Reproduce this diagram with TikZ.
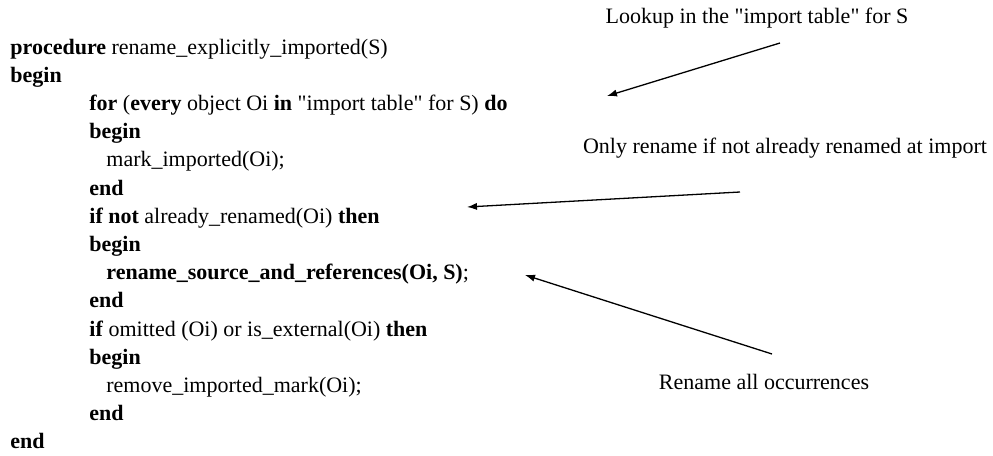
\documentclass[tikz,border=0pt]{standalone}
\usepackage{fontspec}
\setmainfont{Liberation Serif}
\usetikzlibrary{arrows.meta}
\newcommand{\dq}{\textquotedbl}
\begin{document}
\begin{tikzpicture}[x=0.5pt,y=-0.5pt,
  code/.style={anchor=base west, inner sep=0pt, font=\fontsize{11}{13}\selectfont},
  note/.style={anchor=base, inner sep=0pt, font=\fontsize{11}{13}\selectfont},
  pointer/.style={-{Latex[length=5pt,width=3.6pt]}, line width=0.65pt}]
\useasboundingbox (0,0) rectangle (993,456);
% pseudo-code listing
\node[code] (l1)  at (10,54)    {\textbf{procedure} rename\_explicitly\_imported(S)};
\node[code] (l2)  at (10,82.2)  {\textbf{begin}};
\node[code] (l3)  at (89,110.4) {\textbf{for} (\textbf{every} object Oi \textbf{in} \dq import table\dq{} for S) \textbf{do}};
\node[code] (l4)  at (89,138.6) {\textbf{begin}};
\node[code] (l5)  at (106,166.8) {mark\_imported(Oi);};
\node[code] (l6)  at (89,195)   {\textbf{end}};
\node[code] (l7)  at (89,223.2) {\textbf{if not} already\_renamed(Oi) \textbf{then}};
\node[code] (l8)  at (89,251.4) {\textbf{begin}};
\node[code] (l9)  at (106,279.6) {\textbf{rename\_source\_and\_references(Oi, S)};};
\node[code] (l10) at (89,307.8) {\textbf{end}};
\node[code] (l11) at (89,336)   {\textbf{if} omitted (Oi) or is\_external(Oi) \textbf{then}};
\node[code] (l12) at (89,364.2) {\textbf{begin}};
\node[code] (l13) at (106,392.4) {remove\_imported\_mark(Oi);};
\node[code] (l14) at (89,420.6) {\textbf{end}};
\node[code] (l15) at (10,448.8) {\textbf{end}};
% annotations
\node[note] (n1) at (757,23)  {Lookup in the \dq import table\dq{} for S};
\node[note] (n2) at (785,153) {Only rename if not already renamed at import};
\node[note] (n3) at (764,389) {Rename all occurrences};
\coordinate (s1) at (780,43);  \coordinate (t1) at (607,96);
\coordinate (s2) at (740,192); \coordinate (t2) at (467,207);
\coordinate (s3) at (772,354); \coordinate (t3) at (525,275);
\draw[pointer] (s1) -- (t1);
\draw[pointer] (s2) -- (t2);
\draw[pointer] (s3) -- (t3);
\end{tikzpicture}
\end{document}
